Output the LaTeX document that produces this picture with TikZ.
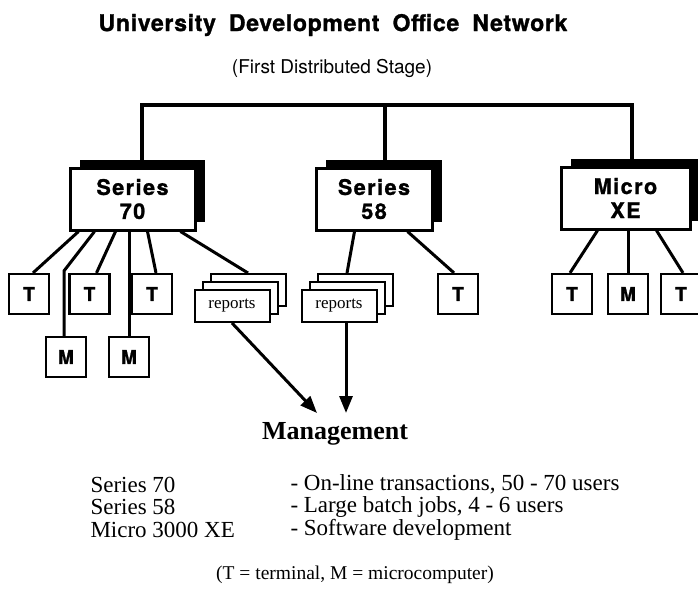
\documentclass[tikz,border=0pt]{standalone}
\usepackage{fontspec}
\setmainfont{Liberation Serif}
\setsansfont{TeX Gyre Heros}
\newfontfamily\boxfont[LetterSpace=7,FakeBold=1.2]{TeX Gyre Heros}
\newfontfamily\headfont[LetterSpace=3,FakeBold=1.2]{TeX Gyre Heros}
\newfontfamily\termfont[FakeBold=1.2]{TeX Gyre Heros}
\usetikzlibrary{arrows.meta,calc,shadows}

\begin{document}
\begin{tikzpicture}[x=1pt, y=-1pt,
    host/.style={draw, line width=3pt, fill=white, minimum height=62pt, inner sep=0pt,
        align=center, font={\boxfont\bfseries\fontsize{21.5}{24}\selectfont},
        general shadow={fill=black, shadow xshift=10pt, shadow yshift=8pt}},
    term/.style={draw, line width=2.2pt, fill=white, minimum width=40pt, minimum height=40pt,
        inner sep=0pt, font={\termfont\bfseries\fontsize{19}{20}\selectfont}},
    sheet/.style={draw, line width=2pt, fill=white, minimum width=75pt, minimum height=32pt,
        inner sep=0pt, font={\fontsize{17}{20}\selectfont},
        general shadow={shadow xshift=16pt, shadow yshift=16pt, draw, fill=white, line width=2pt},
        general shadow={shadow xshift=8pt, shadow yshift=8pt, draw, fill=white, line width=2pt}},
    bus/.style={line width=4pt},
    link/.style={line width=3pt},
    flow/.style={line width=3pt, -{Triangle[length=17pt, width=13pt]}}]

    \useasboundingbox (0,0) rectangle (698,589);

    % Titles
    \node (title) at (333,25) {\headfont\bfseries\fontsize{23}{26}\selectfont University\hspace{6pt} Development\hspace{6pt} Office\hspace{6pt} Network};
    \node (stage) at (332,68) {\sffamily\fontsize{19}{22}\selectfont (First Distributed Stage)};

    % Hosts
    \node[host, minimum width=125pt] (s70) at (132.5,199) {Series\\70};
    \node[host, minimum width=116pt] (s58) at (374,199) {Series\\58};
    \node[host, minimum width=129pt] (mxe) at (625.5,198) {Micro\\XE};

    % Network bus
    \coordinate (b70) at (141.5,105);
    \coordinate (b58) at (385,105);
    \coordinate (bxe) at (632,105);
    \draw[bus] (b70 |- s70.north) -- (b70) -- (bxe) -- (bxe |- mxe.north);
    \draw[bus] (b58) -- (b58 |- s58.north);

    % Terminals and micros
    \node[term] (t1) at (29,294) {T};
    \node[term] (t2) at (89.5,294) {T};
    \node[term] (t3) at (152,294) {T};
    \node[term] (m1) at (66,357) {M};
    \node[term] (m2) at (129,357) {M};
    \node[term] (t4) at (458,294) {T};
    \node[term] (t5) at (572,294) {T};
    \node[term] (m3) at (628,294) {M};
    \node[term] (t6) at (681,294) {T};

    % Reports
    \node[sheet] (r70) at (232,306) {reports};
    \node[sheet] (r58) at (339,306) {reports};

    % Series 70 links
    \draw[link] ($(s70.south west)+(10,0)$) -- ($(t1.north)+(4,0)$);
    \draw[link] ($(s70.south west)+(26,0)$) -- ($(m1.north)+(-2,-65)$) -- ($(m1.north)+(-2,0)$);
    \draw[link] ($(s70.south west)+(47,0)$) -- ($(t2.north)+(7,0)$);
    \draw[link] (m2.north |- s70.south) -- (m2.north);
    \draw[link] ($(s70.south west)+(79,0)$) -- ($(t3.north)+(4,0)$);
    \draw[link] ($(s70.south west)+(112,0)$) -- ($(r70.north)+(16,-16)$);

    % Series 58 links
    \draw[link] ($(s58.south west)+(40,0)$) -- ($(r58.north)+(8,-16)$);
    \draw[link] ($(s58.south west)+(93,0)$) -- ($(t4.north)+(-4,0)$);

    % Micro XE links
    \draw[link] ($(mxe.south west)+(38,0)$) -- ($(t5.north)+(-2,0)$);
    \draw[link] (m3.north |- mxe.south) -- (m3.north);
    \draw[link] ($(mxe.south west)+(97,0)$) -- ($(t6.north)+(2,0)$);

    % Reports to management
    \node[font={\bfseries\fontsize{26}{28}\selectfont}] (mgmt) at (335,434) {Management};
    \coordinate (tip1) at (317,413);
    \coordinate (tip2) at (346,413);
    \draw[flow] (r70.south) -- (tip1);
    \draw[flow] (tip2 |- r58.south) -- (tip2);

    % Legend
    \node[anchor=west, align=left, font={\fontsize{23}{22.5}\selectfont}] (hosts) at (87,507)
        {Series 70\\Series 58\\Micro 3000 XE};
    \node[anchor=west, align=left, font={\fontsize{23}{22.5}\selectfont}] (uses) at (287,507)
        {- On-line transactions, 50 - 70 users\\- Large batch jobs, 4 - 6 users\\- Software development};
    \node[font={\fontsize{19.5}{24}\selectfont}] (key) at (355,575) {(T = terminal, M = microcomputer)};

\end{tikzpicture}
\end{document}
